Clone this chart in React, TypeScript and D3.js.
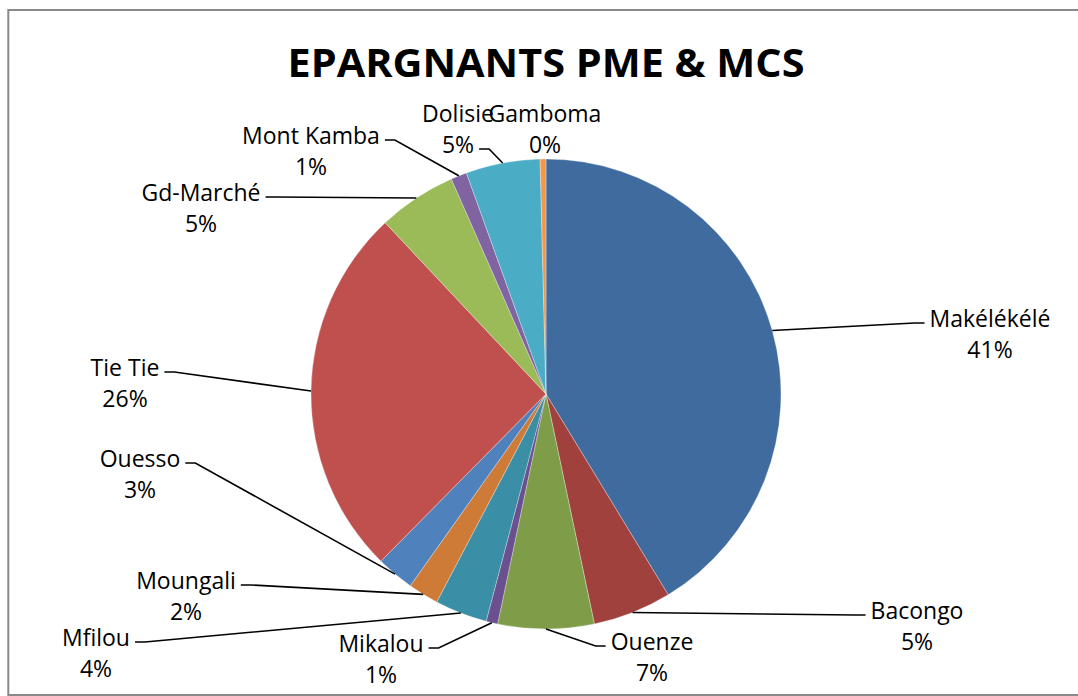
import React, { useRef, useEffect } from "react";
import * as d3 from "d3";

// slice names and shares, clockwise from 12 o'clock
const agences = [
  "Makélékélé", "Bacongo", "Ouenze", "Mikalou", "Mfilou", "Moungali",
  "Ouesso", "Tie Tie", "Gd-Marché", "Mont Kamba", "Dolisie", "Gamboma",
];
const epargnants = [41.3, 5.4, 6.6, 0.8, 3.6, 2.1, 2.6, 25.6, 5.4, 1.1, 5.1, 0.4];
const couleurs = [
  "#3F6B9F", "#A1413E", "#7F9D49", "#6A508E", "#3A8EA5", "#CE7B37",
  "#4F81BD", "#C0504D", "#9BBB59", "#8064A2", "#4BACC6", "#F79646",
];

const title = "EPARGNANTS PME & MCS";

// where Excel left each data label (centre of first line), and which line the leader hooks onto
const labelLayout: Record<string, { x: number; y: number; row?: number; noLeader?: boolean }> = {
  "Makélékélé": { x: 990, y: 318 },
  "Bacongo": { x: 917, y: 610 },
  "Ouenze": { x: 652, y: 641 },
  "Mikalou": { x: 381, y: 643 },
  "Mfilou": { x: 96, y: 637 },
  "Moungali": { x: 186, y: 580 },
  "Ouesso": { x: 140, y: 458 },
  "Tie Tie": { x: 125, y: 367 },
  "Gd-Marché": { x: 201, y: 192 },
  "Mont Kamba": { x: 311, y: 135 },
  "Dolisie": { x: 458, y: 113, row: 1 },
  "Gamboma": { x: 545, y: 113, noLeader: true },
};

const W = 1078;
const H = 696;

const App = () => {
  const svgRef = useRef<SVGSVGElement | null>(null);

  useEffect(() => {
    if (!svgRef.current) return;
    const svg = d3.select(svgRef.current);
    svg.selectAll("*").remove();

    const cx = 546;
    const cy = 394;
    const r = 235;
    const font = "'Open Sans', 'DejaVu Sans', sans-serif";
    const lineGap = 31;

    svg.append("rect")
      .attr("x", 8.3).attr("y", 10)
      .attr("width", W + 10).attr("height", 685)
      .attr("fill", "white")
      .attr("stroke", "#898989")
      .attr("stroke-width", 2);

    svg.append("text")
      .attr("x", cx).attr("y", 77)
      .attr("text-anchor", "middle")
      .attr("font-family", font)
      .attr("font-weight", "bold")
      .attr("font-size", 40)
      .attr("textLength", 517)
      .attr("lengthAdjust", "spacingAndGlyphs")
      .attr("fill", "#000")
      .text(title);

    const data = agences.map((name, i) => ({ name, value: epargnants[i], color: couleurs[i] }));
    const total = d3.sum(epargnants);

    const pie = d3.pie<any>().sort(null).value(d => d.value);
    const arcs = pie(data);
    const arc = d3.arc<any>().innerRadius(0).outerRadius(r);
    const edge = d3.arc<any>().innerRadius(r).outerRadius(r);

    const g = svg.append("g").attr("transform", `translate(${cx},${cy})`);

    g.selectAll("path")
      .data(arcs)
      .join("path")
      .attr("d", arc)
      .attr("fill", d => d.data.color)
      .attr("stroke", "rgba(255,255,255,0.6)")
      .attr("stroke-width", 0.5);

    const labels = svg.append("g");
    const leaders = svg.append("g");

    arcs.forEach(a => {
      const lay = labelLayout[a.data.name];
      const pct = Math.round((a.data.value / total) * 100) + "%";
      const lines = [a.data.name, pct];

      const t = labels.append("text")
        .attr("font-family", font)
        .attr("font-size", 23)
        .attr("fill", "#000")
        .attr("text-anchor", "middle");

      const spans = lines.map((s, k) =>
        t.append("tspan")
          .attr("x", lay.x)
          .attr("y", lay.y + k * lineGap)
          .attr("dominant-baseline", "central")
          .text(s)
      );

      if (lay.noLeader) return;

      const row = lay.row ?? 0;
      const w = (spans[row].node() as SVGTSpanElement).getComputedTextLength();
      const [ex, ey] = edge.centroid(a);
      const px = cx + ex;
      const py = cy + ey;
      const right = lay.x > px;
      const ax = right ? lay.x - w / 2 - 5 : lay.x + w / 2 + 5;
      const ay = lay.y + row * lineGap + 5;

      const hx = right ? ax - 10 : ax + 10;
      leaders.append("path")
        .attr("d", d3.line()([[ax, ay], [hx, ay], [px, py]]))
        .attr("fill", "none")
        .attr("stroke", "#000")
        .attr("stroke-width", 1.6);
    });
  }, []);

  return (
    <svg
      ref={svgRef}
      width={W}
      height={H}
      style={{ position: "absolute", left: 0, top: 0, background: "white" }}
    />
  );
};

export default App;
